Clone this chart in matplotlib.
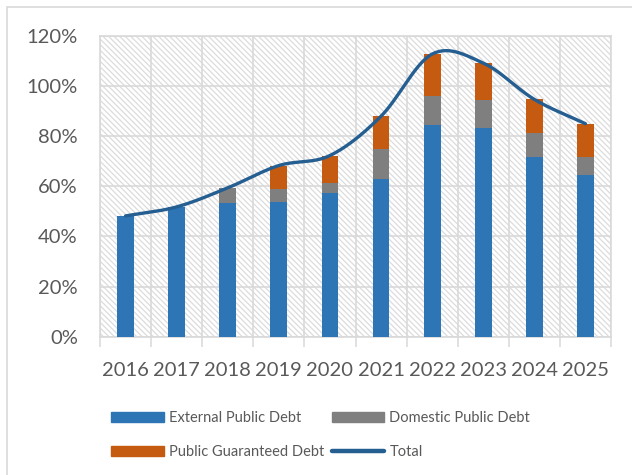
import matplotlib
matplotlib.use("Agg")
import matplotlib.pyplot as plt
from matplotlib.patches import Rectangle, Patch
from matplotlib.lines import Line2D
import numpy as np

plt.rcParams['font.family'] = ['Lato', 'DejaVu Sans']
plt.rcParams['hatch.linewidth'] = 0.9

# debt stock, % of GDP
years = ['2016', '2017', '2018', '2019', '2020', '2021', '2022', '2023', '2024', '2025']
external = [48.2, 51.8, 53.5, 53.9, 57.3, 63.0, 84.3, 83.1, 71.6, 64.5]
domestic = [0.0, 0.0, 5.9, 5.0, 4.2, 12.0, 11.7, 11.3, 9.5, 7.2]
guaranteed = [0.0, 0.0, 0.0, 9.4, 10.8, 13.0, 16.8, 14.8, 13.6, 13.3]
total = [48.2, 51.8, 59.4, 68.3, 72.3, 88.0, 112.8, 109.2, 94.7, 85.0]

c_ext = '#2E75B6'
c_dom = '#7F7F7F'
c_gua = '#C55A11'
c_tot = '#255E91'
c_grid = '#D9D9D9'
c_txt = '#595959'


def smooth(y, n=30):
    # catmull-rom through the points, like the office "smoothed line"
    y = np.asarray(y, dtype=float)
    yp = np.concatenate([[2 * y[0] - y[1]], y, [2 * y[-1] - y[-2]]])
    xs, ys = [], []
    t = np.linspace(0, 1, n, endpoint=False)
    h00 = 2 * t**3 - 3 * t**2 + 1
    h10 = t**3 - 2 * t**2 + t
    h01 = -2 * t**3 + 3 * t**2
    h11 = t**3 - t**2
    for i in range(len(y) - 1):
        m0 = (yp[i + 2] - yp[i]) / 2
        m1 = (yp[i + 3] - yp[i + 1]) / 2
        xs.append(i + t)
        ys.append(h00 * y[i] + h10 * m0 + h01 * y[i + 1] + h11 * m1)
    xs.append([len(y) - 1])
    ys.append([y[-1]])
    return np.concatenate(xs), np.concatenate(ys)


fig = plt.figure(figsize=(6.32, 4.75), dpi=100)
ax = fig.add_axes([100 / 632, 1 - 336.7 / 475, 511 / 632, 300.7 / 475])

# chart frame
fig.patches.append(Rectangle((7 / 632, -0.1), 1.2, 1 - 7 / 475 + 0.1,
                             transform=fig.transFigure, facecolor='none',
                             edgecolor=c_grid, lw=1.2))

x = np.arange(len(years))
w = 0.33
ext = np.array(external)
dom = np.array(domestic)
gua = np.array(guaranteed)
ax.bar(x, ext, w, color=c_ext, zorder=3)
ax.bar(x, dom, w, bottom=ext, color=c_dom, zorder=3)
ax.bar(x, gua, w, bottom=ext + dom, color=c_gua, zorder=3)

sx, sy = smooth(total)
ax.plot(sx, sy, color=c_tot, lw=2.4, solid_capstyle='round', zorder=4)

# hatched plot area
ax.add_patch(Rectangle((0, 0), 1, 1, transform=ax.transAxes, facecolor='none',
                       edgecolor='#DCDCDC', hatch='\\\\\\\\\\\\', lw=0, zorder=0.5))

ax.set_xlim(-0.5, len(years) - 0.5)
ax.set_ylim(0, 120)
ax.set_yticks(np.arange(0, 121, 20))
ax.set_yticklabels([f'{v}%' for v in range(0, 121, 20)])
ax.set_xticks(x)
ax.set_xticklabels(years)
ax.set_xticks(np.arange(-0.5, len(years)), minor=True)
ax.tick_params(axis='x', which='major', length=0, pad=18, labelsize=14.5, labelcolor=c_txt)
ax.tick_params(axis='x', which='minor', length=7, width=1.1, color=c_grid)
ax.tick_params(axis='y', length=0, pad=16, labelsize=14.5, labelcolor=c_txt)
ax.grid(True, which='minor', axis='x', color=c_grid, lw=1.2, zorder=1)
ax.grid(True, which='major', axis='y', color=c_grid, lw=1.2, zorder=1)
ax.set_axisbelow(True)
for s in ax.spines.values():
    s.set_color(c_grid)
    s.set_linewidth(1.2)

handles = [Patch(color=c_ext, label='External Public Debt'),
           Patch(color=c_gua, label='Public Guaranteed Debt'),
           Patch(color=c_dom, label='Domestic Public Debt'),
           Line2D([], [], color=c_tot, lw=3.2, solid_capstyle='round', label='Total')]
fs = 10.5
leg = fig.legend(handles=handles, ncol=2, loc='upper left',
                 bbox_to_anchor=(111 / 632, 1 - 411 / 475), frameon=False,
                 fontsize=fs, handlelength=3.6, handleheight=0.68, handletextpad=0.35,
                 columnspacing=0.55, labelspacing=1.35, borderpad=0, borderaxespad=0)
for t in leg.get_texts():
    t.set_color(c_txt)

fig.savefig('out.png', dpi=100)
